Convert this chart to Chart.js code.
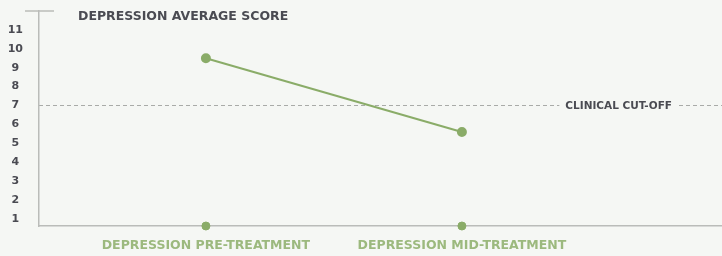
<!DOCTYPE html>
<html>
<head>
<meta charset="utf-8">
<script src="https://cdn.jsdelivr.net/npm/chart.js@4"></script>
<style>
  html, body { margin: 0; padding: 0; background: #f5f7f4; }
  #wrap { width: 722px; height: 256px; }
</style>
</head>
<body>
<div id="wrap"><canvas id="scoreChart"></canvas></div>
<script>
// data
const categories = ['DEPRESSION PRE-TREATMENT', 'DEPRESSION MID-TREATMENT'];
const categoryPos = [1, 2];
const avgScores = [9.5, 5.6];
const yTicks = [1, 2, 3, 4, 5, 6, 7, 8, 9, 10, 11];
const cutOff = 7;
const cutOffLabel = 'CLINICAL CUT-OFF';
const chartTitle = 'DEPRESSION AVERAGE SCORE';

const yMin = 0.63;
const yMax = 12;
const green = '#8aac68';
const axisGrey = '#babcb9';
const textDark = '#4a4b52';
const FONT = '"DejaVu Sans", sans-serif';

const decorations = {
  id: 'decorations',
  beforeDraw(chart) {
    const { ctx, chartArea, scales } = chart;
    ctx.save();
    ctx.fillStyle = '#f5f7f4';
    ctx.fillRect(0, 0, chart.width, chart.height);

    // cap on top of y axis
    const yTop = scales.y.getPixelForValue(yMax);
    ctx.strokeStyle = axisGrey;
    ctx.lineWidth = 1.5;
    ctx.beginPath();
    ctx.moveTo(chartArea.left - 14, yTop);
    ctx.lineTo(chartArea.left + 15, yTop);
    ctx.stroke();

    // clinical cut-off line
    const yc = Math.round(scales.y.getPixelForValue(cutOff)) - 0.5;
    ctx.font = 'bold 10.5px ' + FONT;
    const tw = ctx.measureText(cutOffLabel).width;
    const textRight = chartArea.right - 50;
    const textLeft = textRight - tw;
    ctx.strokeStyle = '#a9aba8';
    ctx.lineWidth = 1;
    ctx.setLineDash([4, 3]);
    ctx.beginPath();
    ctx.moveTo(chartArea.left, yc);
    ctx.lineTo(textLeft - 6, yc);
    ctx.moveTo(textRight + 7, yc);
    ctx.lineTo(chartArea.right, yc);
    ctx.stroke();
    ctx.setLineDash([]);
    ctx.fillStyle = textDark;
    ctx.textBaseline = 'middle';
    ctx.textAlign = 'left';
    ctx.fillText(cutOffLabel, textLeft, yc + 0.5);

    // title
    ctx.font = 'bold 12.5px ' + FONT;
    ctx.fillText(chartTitle, 78, 16.5);
    ctx.restore();
  }
};

new Chart(document.getElementById('scoreChart'), {
  type: 'scatter',
  data: {
    datasets: [{
      label: chartTitle,
      data: categoryPos.map((x, i) => ({ x: x, y: avgScores[i] })),
      showLine: true,
      borderColor: green,
      backgroundColor: green,
      borderWidth: 2,
      pointRadius: 4,
      pointHoverRadius: 4
    }, {
      label: 'axis markers',
      data: categoryPos.map(x => ({ x: x, y: yMin })),
      borderColor: green,
      backgroundColor: green,
      pointRadius: 4,
      pointHoverRadius: 4,
      clip: false
    }]
  },
  options: {
    responsive: true,
    maintainAspectRatio: false,
    animation: false,
    events: [],
    layout: { autoPadding: false, padding: { top: 11, right: 0, left: 0, bottom: 0 } },
    plugins: {
      legend: { display: false },
      tooltip: { enabled: false }
    },
    scales: {
      x: {
        type: 'linear',
        min: 0.348,
        max: 3.016,
        afterBuildTicks: scale => { scale.ticks = categoryPos.map(v => ({ value: v })); },
        afterFit: scale => {
          scale.height = 30;
          scale.paddingLeft = 0;
          scale.paddingRight = 0;
        },
        grid: { display: false, drawTicks: false },
        border: { display: true, color: axisGrey, width: 1.5 },
        ticks: {
          autoSkip: false,
          maxRotation: 0,
          padding: 12,
          color: '#9cb97e',
          font: { family: FONT, size: 12.5, weight: 'bold' },
          callback: v => categories[categoryPos.indexOf(v)]
        }
      },
      y: {
        min: yMin,
        max: yMax,
        afterBuildTicks: scale => { scale.ticks = yTicks.map(v => ({ value: v })); },
        afterFit: scale => {
          scale.width = 39;
          scale.paddingTop = 0;
          scale.paddingBottom = 0;
        },
        grid: { display: false, drawTicks: false },
        border: { display: true, color: axisGrey, width: 1.5 },
        ticks: {
          autoSkip: false,
          padding: 16,
          crossAlign: 'center',
          color: textDark,
          font: { family: FONT, size: 11, weight: 'bold' }
        }
      }
    }
  },
  plugins: [decorations]
});
</script>
</body>
</html>
